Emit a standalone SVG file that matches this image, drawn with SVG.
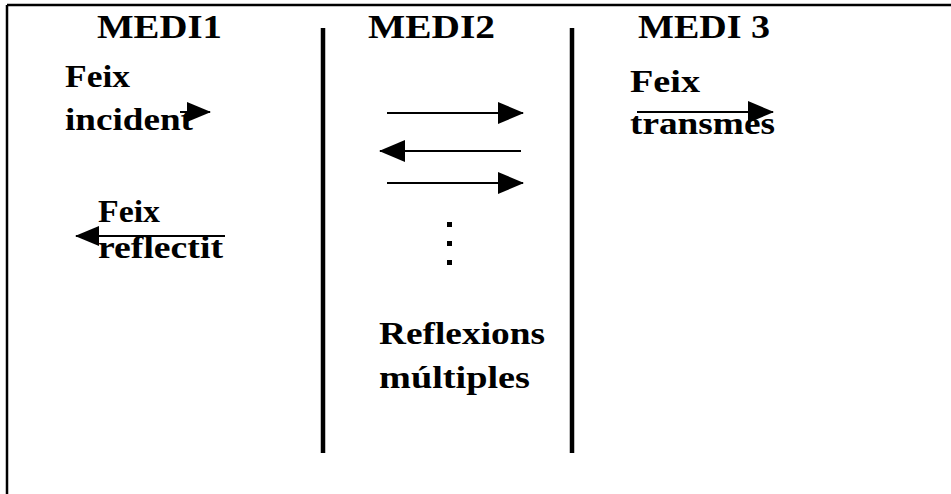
<svg xmlns="http://www.w3.org/2000/svg" width="951" height="494" viewBox="0 0 951 494">
  <defs>
    <marker id="ah" markerUnits="userSpaceOnUse" markerWidth="26" markerHeight="22" refX="25" refY="11" orient="auto">
      <path d="M0,0 L26,11 L0,22 Z" fill="#000"/>
    </marker>
    <marker id="ahs" markerUnits="userSpaceOnUse" markerWidth="24" markerHeight="20" refX="23" refY="10" orient="auto">
      <path d="M0,0 L24,10 L0,20 Z" fill="#000"/>
    </marker>
  </defs>
  <style>
    .t { font-family: "Liberation Serif", "Times New Roman", serif; font-weight: bold; fill: #000; }
    .title { font-size: 34px; }
    .lbl { font-size: 31px; }
    .conn { stroke: #000; stroke-width: 2; fill: none; }
    .frame { stroke: #000; stroke-width: 2.5; fill: none; }
    .div { stroke: #000; stroke-width: 4.5; fill: none; }
  </style>
  <rect x="0" y="0" width="951" height="494" fill="#fff"/>
  <g id="frame">
    <line class="frame" x1="7" y1="5" x2="951" y2="5"/>
    <line class="frame" x1="7" y1="5" x2="7" y2="494"/>
  </g>
  <g id="dividers">
    <line class="div" x1="323" y1="28" x2="323" y2="453"/>
    <line class="div" x1="572" y1="28" x2="572" y2="453"/>
  </g>
  <g id="connectors">
    <line class="conn" x1="180" y1="112" x2="210" y2="112" marker-end="url(#ahs)"/>
    <line class="conn" x1="225" y1="236" x2="76" y2="236" marker-end="url(#ahs)"/>
    <line class="conn" x1="387" y1="113" x2="523" y2="113" marker-end="url(#ah)"/>
    <line class="conn" x1="521" y1="151" x2="380" y2="151" marker-end="url(#ah)"/>
    <line class="conn" x1="387" y1="183" x2="523" y2="183" marker-end="url(#ah)"/>
    <line class="conn" x1="637" y1="112" x2="773" y2="112" marker-end="url(#ah)"/>
  </g>
  <g id="medi1">
    <text class="t title" x="97" y="38" textLength="125" lengthAdjust="spacingAndGlyphs">MEDI1</text>
  </g>
  <g id="medi2">
    <text class="t title" x="368" y="38" textLength="127" lengthAdjust="spacingAndGlyphs">MEDI2</text>
  </g>
  <g id="medi3">
    <text class="t title" x="638" y="38" textLength="132" lengthAdjust="spacingAndGlyphs">MEDI 3</text>
  </g>
  <g id="feix-incident">
    <text class="t lbl" x="65" y="87" textLength="65" lengthAdjust="spacingAndGlyphs">Feix</text>
    <text class="t lbl" x="65" y="130" textLength="128" lengthAdjust="spacingAndGlyphs">incident</text>
  </g>
  <g id="feix-reflectit">
    <text class="t lbl" x="98" y="222" textLength="62" lengthAdjust="spacingAndGlyphs">Feix</text>
    <text class="t lbl" x="98" y="258" textLength="125" lengthAdjust="spacingAndGlyphs">reflectit</text>
  </g>
  <g id="feix-transmes">
    <text class="t lbl" x="630" y="92" textLength="70" lengthAdjust="spacingAndGlyphs">Feix</text>
    <text class="t lbl" x="630" y="134" textLength="145" lengthAdjust="spacingAndGlyphs">transmes</text>
  </g>
  <g id="reflexions">
    <rect x="447" y="222" width="5" height="5" fill="#000"/>
    <rect x="447" y="241" width="5" height="5" fill="#000"/>
    <rect x="447" y="260" width="5" height="5" fill="#000"/>
    <text class="t lbl" x="379" y="344" textLength="166" lengthAdjust="spacingAndGlyphs">Reflexions</text>
    <text class="t lbl" x="379" y="388" textLength="151" lengthAdjust="spacingAndGlyphs">múltiples</text>
  </g>
</svg>
